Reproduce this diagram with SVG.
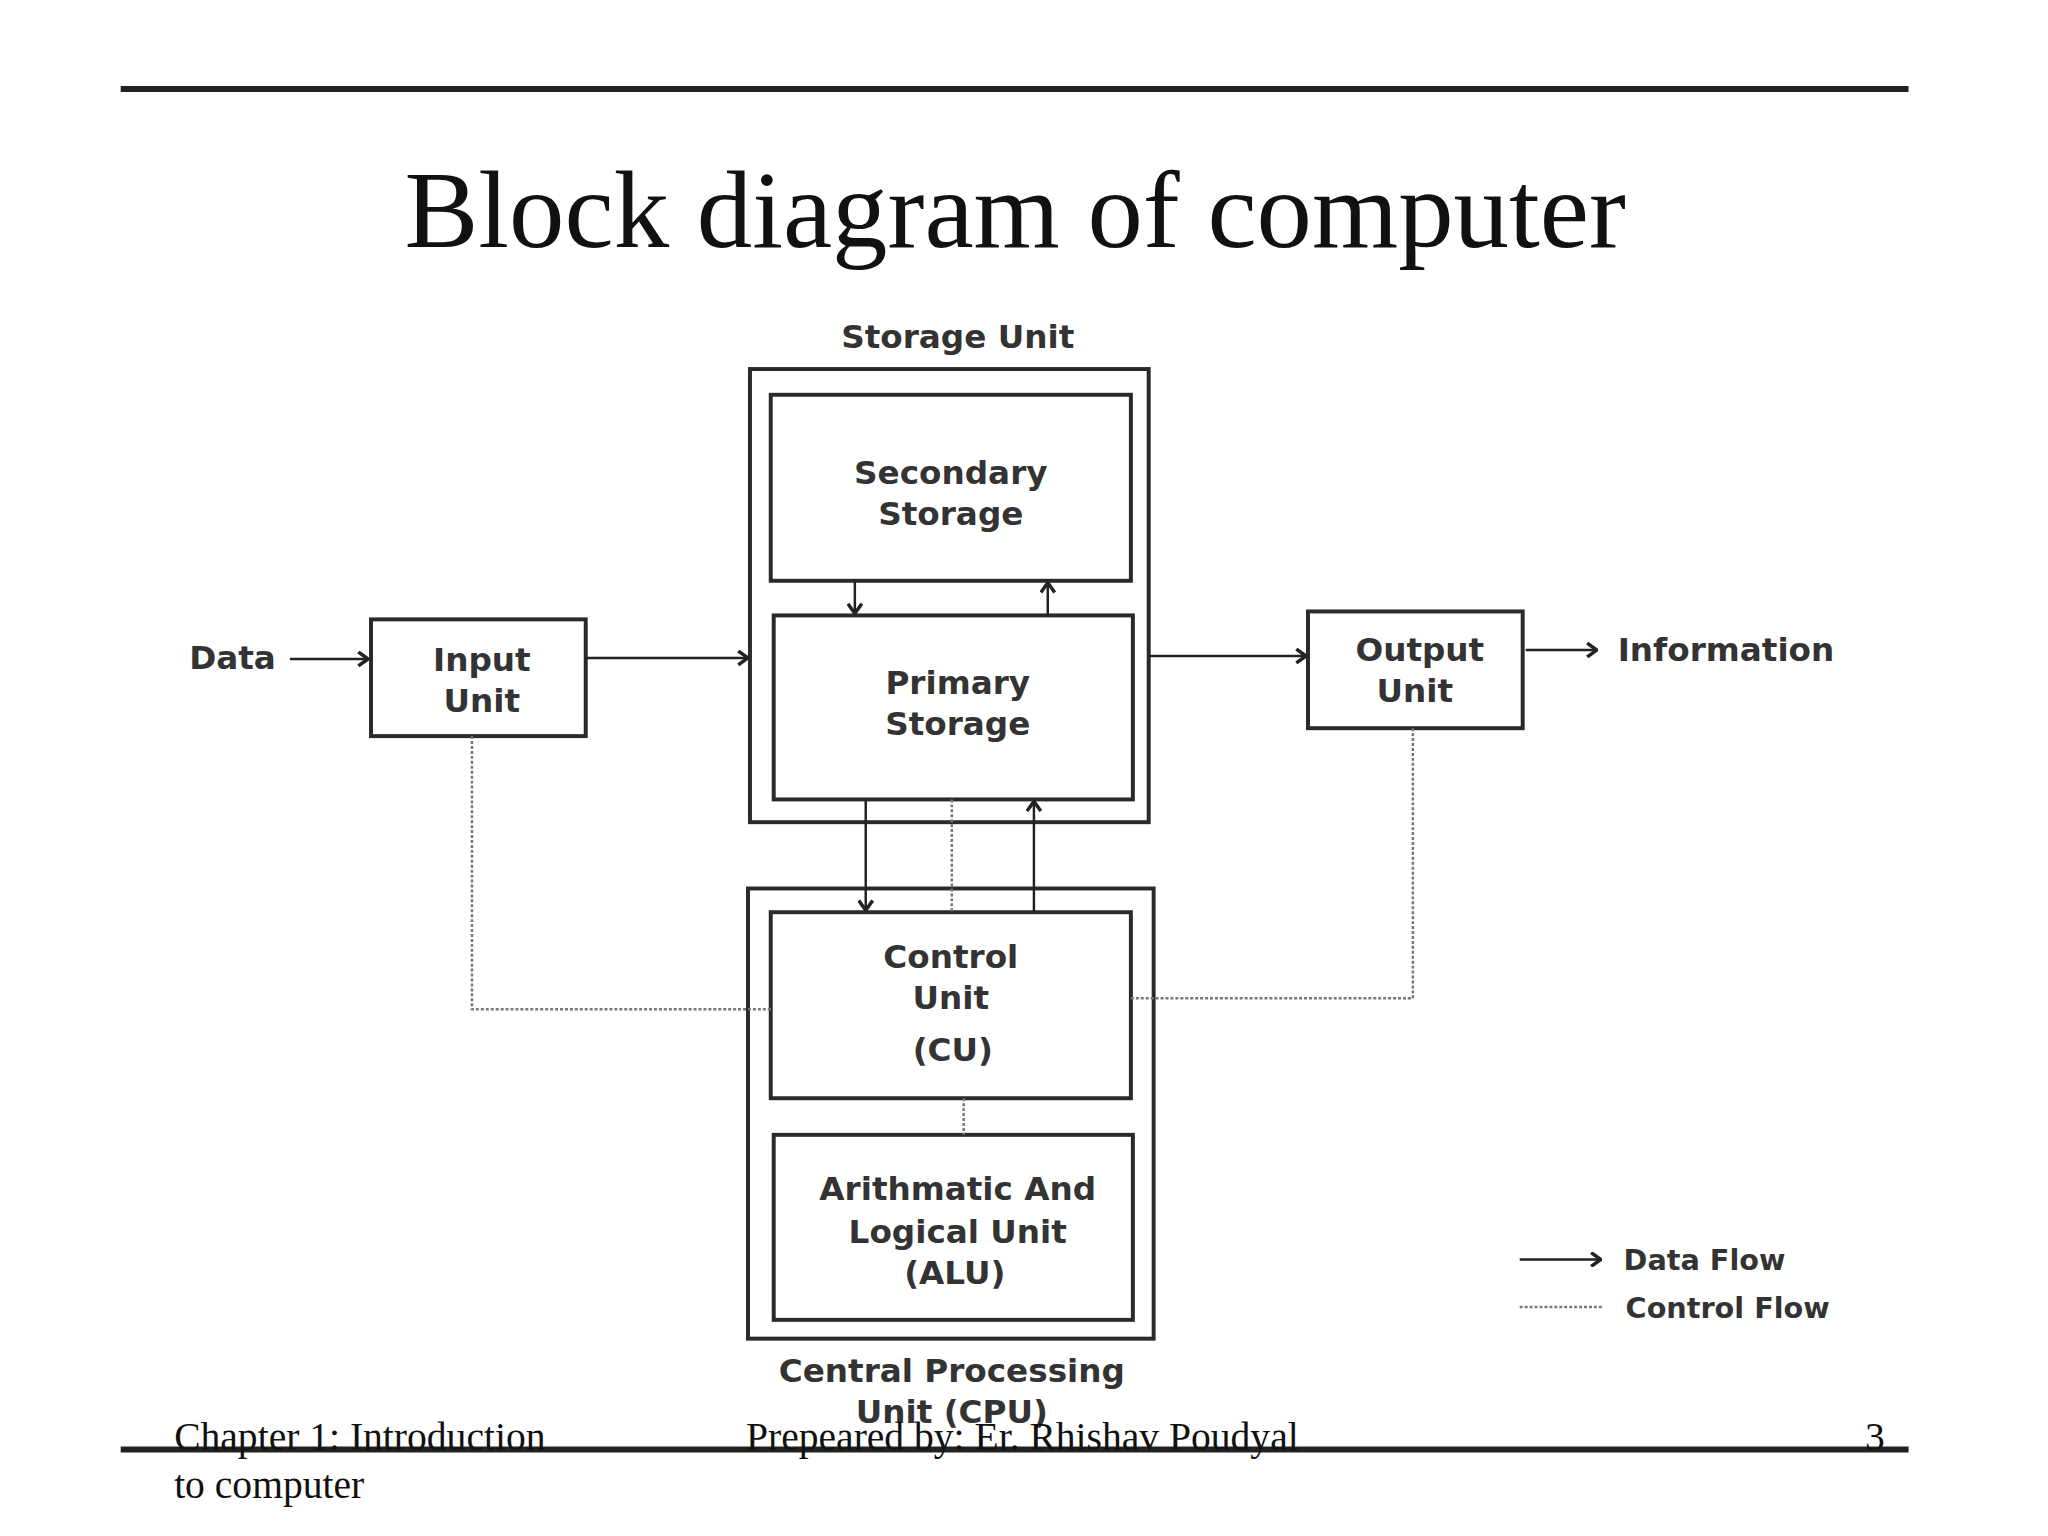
<svg xmlns="http://www.w3.org/2000/svg" width="2048" height="1536" viewBox="0 0 2048 1536">
<defs>
<marker id="ah" viewBox="0 0 10 10" refX="9" refY="5" markerWidth="14" markerHeight="16" markerUnits="userSpaceOnUse" orient="auto"><path d="M2,0 L9,5 L2,10" fill="none" stroke="#222" stroke-width="2.5"/></marker>
<style>
.box{fill:#fff;stroke:#2a2a2a;stroke-width:4}
.lbl{font-family:"DejaVu Sans",Verdana,sans-serif;font-weight:bold;font-size:33px;fill:#333;text-anchor:middle}
.flow{stroke:#222;stroke-width:2.5;fill:none;marker-end:url(#ah)}
.ctl{stroke:#777;stroke-width:2.5;fill:none;stroke-dasharray:3 2}
.ft{font-family:"Liberation Serif",serif;font-size:40px;fill:#111}
</style>
</defs>
<rect width="2048" height="1536" fill="#fff"/>
<g transform="scale(0.9894)">
<line x1="122" y1="90" x2="1929" y2="90" stroke="#222" stroke-width="6"/>
<text x="1026" y="250" font-family="Liberation Serif,serif" font-size="112" text-anchor="middle" fill="#111">Block diagram of computer</text>
<g id="storage"><rect class="box" x="758" y="373" width="403" height="458"/><text class="lbl" x="968" y="352">Storage Unit</text></g>
<g id="secondary"><rect class="box" x="779" y="399" width="364" height="188"/><text class="lbl" x="961" y="489">Secondary</text><text class="lbl" x="961" y="531">Storage</text></g>
<g id="primary"><rect class="box" x="782" y="622" width="363" height="186"/><text class="lbl" x="968" y="701">Primary</text><text class="lbl" x="968" y="743">Storage</text></g>
<g id="input"><rect class="box" x="375" y="626" width="217" height="118"/><text class="lbl" x="487" y="678">Input</text><text class="lbl" x="487" y="720">Unit</text></g>
<g id="output"><rect class="box" x="1322" y="618" width="217" height="118"/><text class="lbl" x="1435" y="668">Output</text><text class="lbl" x="1430" y="710">Unit</text></g>
<g id="cpu"><rect class="box" x="756" y="898" width="410" height="455"/><text class="lbl" x="962" y="1397">Central Processing</text><text class="lbl" x="962" y="1438">Unit (CPU)</text></g>
<g id="cu"><rect class="box" x="779" y="922" width="364" height="188"/><text class="lbl" x="961" y="978">Control</text><text class="lbl" x="961" y="1020">Unit</text><text class="lbl" x="963" y="1072">(CU)</text></g>
<g id="alu"><rect class="box" x="782" y="1147" width="363" height="187"/><text class="lbl" x="968" y="1213">Arithmatic And</text><text class="lbl" x="968" y="1256">Logical Unit</text><text class="lbl" x="965" y="1298">(ALU)</text></g>
<g id="data"><text class="lbl" x="235" y="676">Data</text></g>
<g id="information"><text class="lbl" x="1635" y="668" style="text-anchor:start">Information</text></g>
<g id="connectors">
<line class="flow" x1="293" y1="666" x2="372" y2="666"/>
<line class="flow" x1="592" y1="665" x2="756" y2="665"/>
<line class="flow" x1="1161" y1="663" x2="1320" y2="663"/>
<line class="flow" x1="1542" y1="657" x2="1614" y2="657"/>
<line class="flow" x1="864" y1="587" x2="864" y2="620"/>
<line class="flow" x1="1059" y1="622" x2="1059" y2="589"/>
<line class="flow" x1="875" y1="808" x2="875" y2="920"/>
<line class="flow" x1="1045" y1="922" x2="1045" y2="810"/>
<line class="ctl" x1="962" y1="808" x2="962" y2="922"/>
<line class="ctl" x1="974" y1="1110" x2="974" y2="1147"/>
<polyline class="ctl" points="477,744 477,1020 779,1020"/>
<polyline class="ctl" points="1143,1009 1428,1009 1428,736"/>
</g>
<g id="legend">
<line class="flow" x1="1536" y1="1273" x2="1618" y2="1273"/>
<text class="lbl" x="1641" y="1284" style="text-anchor:start;font-size:29px">Data Flow</text>
<line class="ctl" x1="1536" y1="1321" x2="1621" y2="1321"/>
<text class="lbl" x="1643" y="1332" style="text-anchor:start;font-size:29px">Control Flow</text>
</g>
<line x1="122" y1="1465" x2="1929" y2="1465" stroke="#222" stroke-width="6"/>
<text class="ft" x="176" y="1466">Chapter 1: Introduction</text>
<text class="ft" x="176" y="1514">to computer</text>
<text class="ft" x="754" y="1466">Prepeared by: Er. Rhishav Poudyal</text>
<text class="ft" x="1885" y="1466">3</text>
</g>
</svg>
